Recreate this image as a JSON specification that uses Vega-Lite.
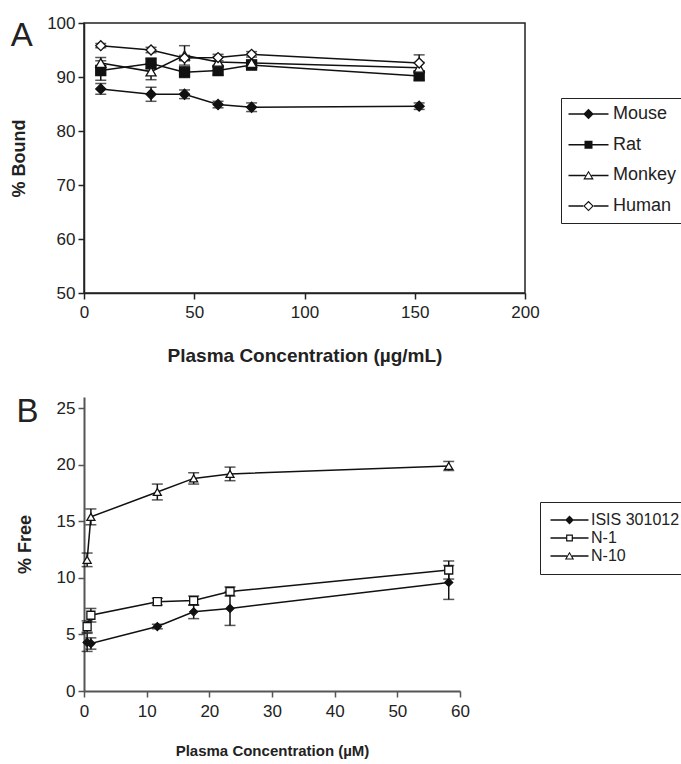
{
  "$schema": "https://vega.github.io/schema/vega-lite/v6.json",
  "background": "white",
  "padding": {"left": 9, "top": 13, "right": 0, "bottom": 5},
  "config": {
    "font": "Liberation Sans",
    "axis": {"grid": false, "domainColor": "#222", "tickColor": "#222", "domainWidth": 1.5, "tickWidth": 1.5, "tickSize": 6, "labelFontSize": 17, "labelColor": "#222", "titleFontSize": 18, "titleFontWeight": "bold", "titleColor": "#222", "labelFlush": false},
    "title": {"font": "Liberation Sans", "fontSize": 33, "fontWeight": "normal", "anchor": "start", "frame": "bounds", "color": "#222"},
    "legend": {"labelFont": "Liberation Sans", "labelColor": "#222", "strokeColor": "#222"},
    "concat": {"spacing": 30}
  },
  "datasets": {
    "a": [
      {"species": "Mouse", "conc": 7.6, "bound": 87.8, "lo": 86.8, "hi": 88.8},
      {"species": "Mouse", "conc": 30.4, "bound": 86.8, "lo": 85.5, "hi": 88.1},
      {"species": "Mouse", "conc": 45.6, "bound": 86.8, "lo": 86.0, "hi": 87.6},
      {"species": "Mouse", "conc": 60.8, "bound": 84.9, "lo": 84.3, "hi": 85.5},
      {"species": "Mouse", "conc": 76, "bound": 84.4, "lo": 83.6, "hi": 85.2},
      {"species": "Mouse", "conc": 152, "bound": 84.6, "lo": 84.0, "hi": 85.2},
      {"species": "Rat", "conc": 7.6, "bound": 91.2, "lo": 89.4, "hi": 93.0},
      {"species": "Rat", "conc": 30.4, "bound": 92.5, "lo": 91.5, "hi": 93.5},
      {"species": "Rat", "conc": 45.6, "bound": 90.9, "lo": 89.9, "hi": 91.9},
      {"species": "Rat", "conc": 60.8, "bound": 91.2, "lo": 90.4, "hi": 92.0},
      {"species": "Rat", "conc": 76, "bound": 92.2, "lo": 91.6, "hi": 92.8},
      {"species": "Rat", "conc": 152, "bound": 90.2, "lo": 89.4, "hi": 91.0},
      {"species": "Monkey", "conc": 7.6, "bound": 92.6, "lo": 91.6, "hi": 93.6},
      {"species": "Monkey", "conc": 30.4, "bound": 91.0, "lo": 89.5, "hi": 92.5},
      {"species": "Monkey", "conc": 45.6, "bound": 94.0, "lo": 92.2, "hi": 95.8},
      {"species": "Monkey", "conc": 60.8, "bound": 92.8, "lo": 91.8, "hi": 93.8},
      {"species": "Monkey", "conc": 76, "bound": 92.6, "lo": 92.0, "hi": 93.2},
      {"species": "Monkey", "conc": 152, "bound": 91.7, "lo": 90.7, "hi": 92.7},
      {"species": "Human", "conc": 7.6, "bound": 95.8, "lo": 95.4, "hi": 96.2},
      {"species": "Human", "conc": 30.4, "bound": 95.0, "lo": 94.5, "hi": 95.5},
      {"species": "Human", "conc": 45.6, "bound": 93.5, "lo": 93.0, "hi": 94.0},
      {"species": "Human", "conc": 60.8, "bound": 93.6, "lo": 93.0, "hi": 94.2},
      {"species": "Human", "conc": 76, "bound": 94.2, "lo": 93.7, "hi": 94.7},
      {"species": "Human", "conc": 152, "bound": 92.6, "lo": 91.1, "hi": 94.1}
    ],
    "b": [
      {"compound": "ISIS 301012", "conc": 0.5, "free": 4.3, "lo": 3.5, "hi": 5.1},
      {"compound": "ISIS 301012", "conc": 1.1, "free": 4.2, "lo": 3.7, "hi": 4.7},
      {"compound": "ISIS 301012", "conc": 11.7, "free": 5.7, "lo": 5.5, "hi": 5.9},
      {"compound": "ISIS 301012", "conc": 17.5, "free": 7.0, "lo": 6.4, "hi": 7.6},
      {"compound": "ISIS 301012", "conc": 23.3, "free": 7.3, "lo": 5.8, "hi": 8.8},
      {"compound": "ISIS 301012", "conc": 58.2, "free": 9.6, "lo": 8.1, "hi": 11.1},
      {"compound": "N-1", "conc": 0.5, "free": 5.7, "lo": 5.2, "hi": 6.2},
      {"compound": "N-1", "conc": 1.1, "free": 6.7, "lo": 6.1, "hi": 7.3},
      {"compound": "N-1", "conc": 11.7, "free": 7.9, "lo": 7.6, "hi": 8.2},
      {"compound": "N-1", "conc": 17.5, "free": 8.0, "lo": 7.6, "hi": 8.4},
      {"compound": "N-1", "conc": 23.3, "free": 8.8, "lo": 8.4, "hi": 9.2},
      {"compound": "N-1", "conc": 58.2, "free": 10.7, "lo": 9.9, "hi": 11.5},
      {"compound": "N-10", "conc": 0.5, "free": 11.6, "lo": 11.0, "hi": 12.2},
      {"compound": "N-10", "conc": 1.1, "free": 15.4, "lo": 14.7, "hi": 16.1},
      {"compound": "N-10", "conc": 11.7, "free": 17.6, "lo": 16.9, "hi": 18.3},
      {"compound": "N-10", "conc": 17.5, "free": 18.8, "lo": 18.3, "hi": 19.3},
      {"compound": "N-10", "conc": 23.3, "free": 19.2, "lo": 18.6, "hi": 19.8},
      {"compound": "N-10", "conc": 58.2, "free": 19.9, "lo": 19.5, "hi": 20.3}
    ]
  },
  "vconcat": [
    {
      "title": {"text": "A", "offset": -39},
      "width": 441,
      "height": 270,
      "view": {"stroke": "#222", "strokeWidth": 1.5},
      "data": {"name": "a"},
      "layer": [
        {
          "mark": {"type": "line", "color": "#111", "strokeWidth": 1.5},
          "encoding": {
            "x": {"field": "conc", "type": "quantitative", "title": "Plasma Concentration (µg/mL)", "scale": {"domain": [0, 200]}, "axis": {"values": [0, 50, 100, 150, 200], "titlePadding": 26, "labelPadding": 5, "titleFontSize": 19}},
            "y": {"field": "bound", "type": "quantitative", "title": "% Bound", "scale": {"domain": [50, 100]}, "axis": {"values": [50, 60, 70, 80, 90, 100], "titlePadding": 18, "labelPadding": 3}},
            "detail": {"field": "species"},
            "order": {"field": "conc"}
          }
        },
        {
          "mark": {"type": "errorbar", "ticks": {"size": 11, "color": "#111", "thickness": 1.5}, "rule": {"color": "#111", "strokeWidth": 1.5}},
          "encoding": {
            "x": {"field": "conc", "type": "quantitative", "title": "Plasma Concentration (µg/mL)"},
            "y": {"field": "lo", "type": "quantitative", "title": "% Bound"},
            "y2": {"field": "hi"},
            "detail": {"field": "species"}
          }
        },
        {
          "mark": {"type": "point", "filled": false, "stroke": "#111", "strokeWidth": 1.3, "opacity": 1, "size": 100},
          "encoding": {
            "x": {"field": "conc", "type": "quantitative", "title": "Plasma Concentration (µg/mL)"},
            "y": {"field": "bound", "type": "quantitative", "title": "% Bound"},
            "shape": {"field": "species", "type": "nominal", "scale": {"domain": ["Mouse", "Rat", "Monkey", "Human"], "range": ["diamond", "square", "triangle-up", "diamond"]}, "legend": null},
            "fill": {"field": "species", "type": "nominal", "scale": {"domain": ["Mouse", "Rat", "Monkey", "Human"], "range": ["#111", "#111", "white", "white"]}, "legend": null}
          }
        },
        {
          "mark": {"type": "point", "filled": true, "color": "#111", "opacity": 0, "size": 100},
          "encoding": {
            "x": {"field": "conc", "type": "quantitative", "title": "Plasma Concentration (µg/mL)"},
            "y": {"field": "bound", "type": "quantitative", "title": "% Bound"},
            "shape": {"field": "species", "type": "nominal", "title": null,
              "scale": {"domain": ["Mouse", "Rat", "Monkey", "Human"], "range": [
                "M-4,-0.15H4V0.15H-4Z M0,-1.05L1.05,0L0,1.05L-1.05,0Z",
                "M-4,-0.15H4V0.15H-4Z M-0.8,-0.8H0.8V0.8H-0.8Z",
                "M-4,-0.15H-0.6V0.15H-4Z M0.6,-0.15H4V0.15H0.6Z M0,-0.95L1.05,0.8L-1.05,0.8Z M0,-0.51L-0.65,0.58L0.65,0.58Z",
                "M-4,-0.15H-1.05V0.15H-4Z M1.05,-0.15H4V0.15H1.05Z M0,-1.05L1.05,0L0,1.05L-1.05,0Z M0,-0.74L-0.74,0L0,0.74L0.74,0Z"
              ]},
              "legend": {"title": null, "orient": "none", "legendX": 477, "legendY": 75, "strokeColor": "#222", "padding": 7, "labelFontSize": 18, "rowPadding": 12.7, "symbolSize": 100, "symbolOffset": 11.5, "labelOffset": 15.5, "symbolOpacity": 1, "symbolFillColor": "#111", "symbolStrokeWidth": 0}
            }
          }
        }
      ],
      "resolve": {"scale": {"shape": "independent"}, "legend": {"shape": "independent"}}
    },
    {
      "title": {"text": "B", "offset": -32},
      "width": 376,
      "height": 294,
      "view": {"stroke": null},
      "data": {"name": "b"},
      "layer": [
        {
          "mark": {"type": "line", "color": "#111", "strokeWidth": 1.5},
          "encoding": {
            "x": {"field": "conc", "type": "quantitative", "title": "Plasma Concentration (µM)", "scale": {"domain": [0, 60]}, "axis": {"values": [0, 10, 20, 30, 40, 50, 60], "titlePadding": 24, "labelPadding": 6, "titleFontSize": 15, "domainColor": "#555", "tickColor": "#555", "domainWidth": 2}},
            "y": {"field": "free", "type": "quantitative", "title": "% Free", "scale": {"domain": [0, 25]}, "axis": {"values": [0, 5, 10, 15, 20, 25], "titlePadding": 21.5, "labelPadding": 3, "domainColor": "#555", "tickColor": "#555", "domainWidth": 2}},
            "detail": {"field": "compound"},
            "order": {"field": "conc"}
          }
        },
        {
          "mark": {"type": "errorbar", "ticks": {"size": 11, "color": "#111", "thickness": 1.5}, "rule": {"color": "#111", "strokeWidth": 1.5}},
          "encoding": {
            "x": {"field": "conc", "type": "quantitative", "title": "Plasma Concentration (µM)"},
            "y": {"field": "lo", "type": "quantitative", "title": "% Free"},
            "y2": {"field": "hi"},
            "detail": {"field": "compound"}
          }
        },
        {
          "mark": {"type": "point", "filled": false, "stroke": "#111", "strokeWidth": 1.3, "opacity": 1, "size": 64},
          "encoding": {
            "x": {"field": "conc", "type": "quantitative", "title": "Plasma Concentration (µM)"},
            "y": {"field": "free", "type": "quantitative", "title": "% Free"},
            "shape": {"field": "compound", "type": "nominal", "scale": {"domain": ["ISIS 301012", "N-1", "N-10"], "range": ["diamond", "square", "triangle-up"]}, "legend": null},
            "fill": {"field": "compound", "type": "nominal", "scale": {"domain": ["ISIS 301012", "N-1", "N-10"], "range": ["#111", "white", "white"]}, "legend": null}
          }
        },
        {
          "mark": {"type": "point", "filled": true, "color": "#111", "opacity": 0, "size": 64},
          "encoding": {
            "x": {"field": "conc", "type": "quantitative", "title": "Plasma Concentration (µM)"},
            "y": {"field": "free", "type": "quantitative", "title": "% Free"},
            "shape": {"field": "compound", "type": "nominal", "title": null,
              "scale": {"domain": ["ISIS 301012", "N-1", "N-10"], "range": [
                "M-4.75,-0.16H4.75V0.16H-4.75Z M0,-1.1L1.1,0L0,1.1L-1.1,0Z",
                "M-4.75,-0.16H-0.85V0.16H-4.75Z M0.85,-0.16H4.75V0.16H0.85Z M-0.85,-0.85H0.85V0.85H-0.85Z M-0.55,-0.55V0.55H0.55V-0.55Z",
                "M-4.75,-0.16H-0.65V0.16H-4.75Z M0.65,-0.16H4.75V0.16H0.65Z M0,-1.05L1.15,0.85L-1.15,0.85Z M0,-0.54L-0.69,0.6L0.69,0.6Z"
              ]},
              "legend": {"title": null, "orient": "none", "legendX": 456, "legendY": 105, "strokeColor": "#222", "padding": 10, "labelFontSize": 16, "rowPadding": 2, "symbolSize": 64, "symbolOffset": 11.5, "labelOffset": 13.5, "symbolOpacity": 1, "symbolFillColor": "#111", "symbolStrokeWidth": 0}
            }
          }
        }
      ],
      "resolve": {"scale": {"shape": "independent"}, "legend": {"shape": "independent"}}
    }
  ],
  "resolve": {"scale": {"shape": "independent", "fill": "independent"}, "legend": {"shape": "independent", "fill": "independent"}}
}
